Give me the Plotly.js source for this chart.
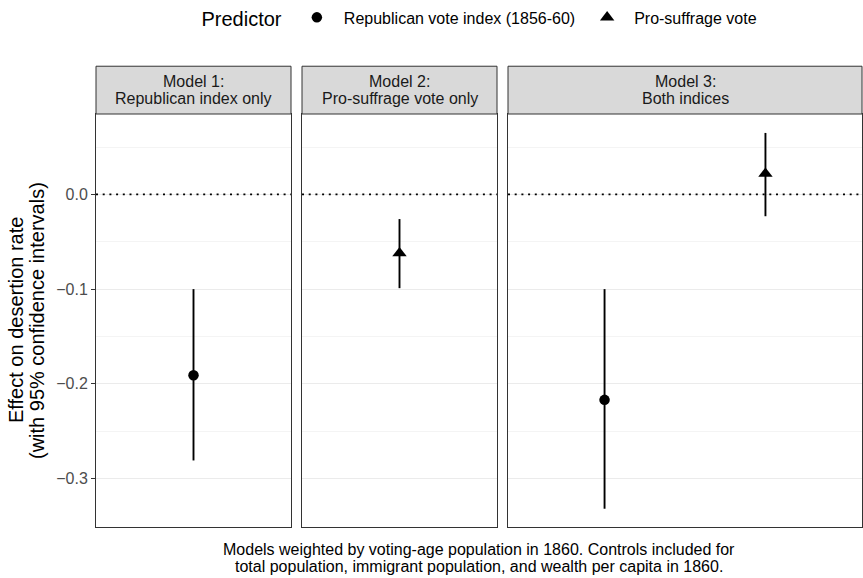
<!DOCTYPE html>
<html>
<head>
<meta charset="utf-8">
<script src="https://cdn.plot.ly/plotly-3.0.1.min.js"></script>
<style>html,body{margin:0;padding:0;background:#fff;}#chart{width:863px;height:578px;}</style>
</head>
<body>
<div id="chart"></div>
<script>
// ---- Data ----
const predictors = ["Republican vote index (1856-60)", "Pro-suffrage vote"];
const modelTitleLine1 = ["Model 1:", "Model 2:", "Model 3:"];
const modelTitleLine2 = ["Republican index only", "Pro-suffrage vote only", "Both indices"];
// Republican vote index estimates (Model 1, Model 3)
const repModels = ["Model 1", "Model 3"];
const repEst = [-0.191, -0.217];
const repLow = [-0.281, -0.332];
const repHigh = [-0.100, -0.100];
// Pro-suffrage vote estimates (Model 2, Model 3)
const sufModels = ["Model 2", "Model 3"];
const sufEst = [-0.062, 0.022];
const sufLow = [-0.099, -0.023];
const sufHigh = [-0.026, 0.065];
const yTicks = [0.0, -0.1, -0.2, -0.3];
const yMinorTicks = [0.05, -0.05, -0.15, -0.25];
const yTitleLines = ["Effect on desertion rate", "(with 95% confidence intervals)"];
const captionLines = ["Models weighted by voting-age population in 1860. Controls included for",
                      "total population, immigrant population, and wealth per capita in 1860."];

// ---- Layout helpers ----
const FONT = "Liberation Sans, Arial, Helvetica, sans-serif";
const axisMap = {"Model 1": ["x", "y"], "Model 2": ["x2", "y2"], "Model 3": ["x3", "y3"]};
const panelCats = {
  "Model 1": [predictors[0]],
  "Model 2": [predictors[1]],
  "Model 3": [predictors[0], predictors[1]]
};

const traces = [];
repModels.forEach((m, i) => {
  traces.push({
    type: "scatter", mode: "markers",
    x: [predictors[0]], y: [repEst[i]],
    xaxis: axisMap[m][0], yaxis: axisMap[m][1],
    name: predictors[0], legendgroup: "rep", showlegend: i === 0,
    marker: {symbol: "circle", size: 10.5, color: "#000"},
    error_y: {type: "data", symmetric: false,
      array: [repHigh[i] - repEst[i]], arrayminus: [repEst[i] - repLow[i]],
      width: 0, thickness: 1.9, color: "#000"},
    hoverinfo: "y"
  });
});
sufModels.forEach((m, i) => {
  traces.push({
    type: "scatter", mode: "markers",
    x: [predictors[1]], y: [sufEst[i]],
    xaxis: axisMap[m][0], yaxis: axisMap[m][1],
    name: predictors[1], legendgroup: "suf", showlegend: i === 0,
    marker: {symbol: "triangle-up", size: 12.5, color: "#000"},
    error_y: {type: "data", symmetric: false,
      array: [sufHigh[i] - sufEst[i]], arrayminus: [sufEst[i] - sufLow[i]],
      width: 0, thickness: 1.9, color: "#000"},
    hoverinfo: "y"
  });
});

// pixel geometry
const W = 863, H = 578;
const L = 96, R = 862, T = 112, B = 527;
const pw = R - L, ph = B - T;
const dom = (a, b) => [(a - L) / pw, (b - L) / pw];
const domains = [dom(96, 291), dom(302, 497), dom(508, 862)];
const yRange = [-0.3513, 0.085];
const py = (pix) => (B - pix) / ph;   // pixel row -> paper y
const px = (pix) => (pix - L) / pw;   // pixel col -> paper x

function xAxis(i, m) {
  const cats = panelCats[m];
  return {
    domain: domains[i], anchor: i === 0 ? "y" : "y" + (i + 1),
    type: "category", categoryorder: "array", categoryarray: cats,
    range: [-0.6, cats.length - 0.4],
    showticklabels: false, ticks: "", showgrid: false, zeroline: false,
    showline: true, mirror: true, linecolor: "#333333", linewidth: 1,
    fixedrange: true
  };
}
function yAxis(i) {
  const ax = {
    domain: [0, 1], range: yRange, anchor: i === 0 ? "x" : "x" + (i + 1),
    tickmode: "array", tickvals: yTicks,
    ticktext: yTicks.map(v => v === 0 ? "0.0" : "\u2212" + Math.abs(v).toFixed(1)),
    showgrid: true, gridcolor: "#ebebeb", gridwidth: 1.1,
    minor: {tickmode: "array", tickvals: yMinorTicks, showgrid: true, gridcolor: "#f0f0f0", gridwidth: 0.7, ticks: ""},
    zeroline: false, showline: true, mirror: true, linecolor: "#333333", linewidth: 1,
    fixedrange: true
  };
  if (i === 0) {
    ax.ticks = "outside"; ax.ticklen = 4; ax.tickcolor = "#333333"; ax.tickwidth = 1;
    ax.tickfont = {family: FONT, size: 16, color: "#4d4d4d"};
  } else {
    ax.matches = "y"; ax.showticklabels = false; ax.ticks = "";
  }
  return ax;
}

const models = ["Model 1", "Model 2", "Model 3"];
const layout = {
  width: W, height: H,
  margin: {l: L, r: W - R, t: T, b: H - B, pad: 0},
  paper_bgcolor: "#fff", plot_bgcolor: "#fff",
  font: {family: FONT, color: "#000"},
  showlegend: true,
  legend: {
    orientation: "h", x: px(481), xanchor: "center", y: py(16), yanchor: "middle",
    title: {text: "Predictor", font: {family: FONT, size: 20, color: "#000"}, side: "left"},
    font: {family: FONT, size: 16, color: "#000"},
    itemwidth: 44, bgcolor: "rgba(0,0,0,0)"
  },
  shapes: [],
  annotations: []
};
models.forEach((m, i) => {
  const xk = i === 0 ? "xaxis" : "xaxis" + (i + 1);
  const yk = i === 0 ? "yaxis" : "yaxis" + (i + 1);
  layout[xk] = xAxis(i, m);
  layout[yk] = yAxis(i);
  const xr = (i === 0 ? "x" : "x" + (i + 1)) + " domain";
  const yr = i === 0 ? "y" : "y" + (i + 1);
  // strip background
  layout.shapes.push({type: "rect", xref: xr, yref: "paper", x0: 0, x1: 1, y0: 1, y1: py(64),
    fillcolor: "#d9d9d9", line: {color: "#333333", width: 1}, layer: "above"});
  // zero reference line
  layout.shapes.push({type: "line", xref: xr, yref: yr, x0: 0, x1: 1, y0: 0, y1: 0,
    line: {color: "#000000", width: 1.8, dash: "2px,4.7px"}, layer: "above"});
  layout.annotations.push({xref: xr, yref: "paper", x: 0.5, y: py(79),
    text: modelTitleLine1[i], showarrow: false, xanchor: "center", yanchor: "middle",
    font: {family: FONT, size: 16, color: "#1a1a1a"}});
  layout.annotations.push({xref: xr, yref: "paper", x: 0.5, y: py(96.5),
    text: modelTitleLine2[i], showarrow: false, xanchor: "center", yanchor: "middle",
    font: {family: FONT, size: 16, color: "#1a1a1a"}});
});
// y title (two lines)
[15.5, 36.5].forEach((xp, k) => {
  layout.annotations.push({xref: "paper", yref: "paper", x: px(xp), y: 0.5,
    text: yTitleLines[k], showarrow: false, textangle: -90, xanchor: "center", yanchor: "middle",
    font: {family: FONT, size: 20, color: "#000"}});
});
// caption (two lines)
[550, 567].forEach((yp, k) => {
  layout.annotations.push({xref: "paper", yref: "paper", x: 0.5, y: py(yp),
    text: captionLines[k], showarrow: false, xanchor: "center", yanchor: "middle",
    font: {family: FONT, size: 16, color: "#000"}});
});

Plotly.newPlot("chart", traces, layout, {displayModeBar: false, staticPlot: true});
</script>
</body>
</html>
